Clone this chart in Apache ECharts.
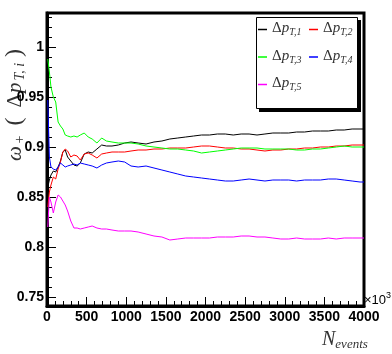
<!DOCTYPE html>
<html>
<head>
<meta charset="utf-8">
<script src="https://cdn.jsdelivr.net/npm/echarts@6/dist/echarts.min.js"></script>
<style>
  html, body { margin: 0; padding: 0; background: #fff; }
  #chart { width: 392px; height: 354px; }
</style>
</head>
<body>
<div id="chart"></div>
<script>
// N events (x 10^3)
const nEvents = [10, 30, 50, 80, 110, 140, 170, 200, 230, 260, 300, 340, 380, 420, 470, 520, 570, 630, 690, 750,
  820, 900, 980, 1060, 1150, 1250, 1350, 1450, 1550, 1650, 1750, 1850, 1950, 2050, 2150, 2250, 2350, 2450, 2550, 2650,
  2750, 2850, 2950, 3050, 3150, 3250, 3350, 3450, 3550, 3650, 3750, 3850, 3950, 4000];

const pt1 = [0.860, 0.867, 0.872, 0.876, 0.875, 0.880, 0.886, 0.895, 0.897, 0.890, 0.886, 0.882, 0.881, 0.884, 0.893, 0.895, 0.894, 0.898, 0.902, 0.901,
  0.901, 0.902, 0.904, 0.905, 0.904, 0.903, 0.905, 0.906, 0.908, 0.909, 0.910, 0.911, 0.912, 0.912, 0.913, 0.913, 0.912, 0.913, 0.913, 0.912,
  0.913, 0.914, 0.914, 0.914, 0.915, 0.915, 0.916, 0.916, 0.916, 0.917, 0.917, 0.918, 0.918, 0.918];
const pt2 = [0.840, 0.855, 0.862, 0.870, 0.868, 0.878, 0.885, 0.895, 0.898, 0.896, 0.890, 0.892, 0.891, 0.887, 0.893, 0.894, 0.892, 0.889, 0.893, 0.894,
  0.895, 0.895, 0.895, 0.896, 0.897, 0.897, 0.898, 0.898, 0.899, 0.899, 0.899, 0.900, 0.901, 0.901, 0.900, 0.899, 0.899, 0.898, 0.898, 0.897,
  0.896, 0.897, 0.897, 0.898, 0.898, 0.899, 0.899, 0.900, 0.900, 0.901, 0.901, 0.902, 0.902, 0.902];
const pt3 = [0.988, 0.975, 0.960, 0.950, 0.945, 0.925, 0.921, 0.918, 0.912, 0.911, 0.910, 0.911, 0.910, 0.912, 0.914, 0.910, 0.908, 0.904, 0.909, 0.906,
  0.905, 0.904, 0.904, 0.904, 0.903, 0.901, 0.900, 0.899, 0.898, 0.898, 0.897, 0.896, 0.894, 0.895, 0.896, 0.897, 0.898, 0.899, 0.899, 0.899,
  0.898, 0.898, 0.898, 0.898, 0.897, 0.897, 0.898, 0.898, 0.899, 0.900, 0.901, 0.900, 0.900, 0.900];
const pt4 = [0.947, 0.890, 0.880, 0.878, 0.877, 0.880, 0.884, 0.882, 0.880, 0.881, 0.882, 0.883, 0.882, 0.884, 0.883, 0.882, 0.881, 0.879, 0.882, 0.884,
  0.885, 0.886, 0.885, 0.881, 0.880, 0.881, 0.879, 0.877, 0.875, 0.873, 0.871, 0.870, 0.869, 0.868, 0.867, 0.866, 0.866, 0.867, 0.868, 0.867,
  0.866, 0.867, 0.867, 0.867, 0.866, 0.867, 0.867, 0.867, 0.868, 0.868, 0.867, 0.866, 0.865, 0.865];
const pt5 = [0.820, 0.850, 0.845, 0.834, 0.845, 0.852, 0.850, 0.846, 0.842, 0.836, 0.826, 0.819, 0.819, 0.818, 0.819, 0.820, 0.821, 0.819, 0.818, 0.818,
  0.817, 0.816, 0.816, 0.816, 0.815, 0.813, 0.811, 0.810, 0.807, 0.808, 0.809, 0.809, 0.809, 0.809, 0.810, 0.810, 0.810, 0.811, 0.811, 0.810,
  0.810, 0.809, 0.808, 0.808, 0.809, 0.808, 0.808, 0.808, 0.809, 0.808, 0.809, 0.809, 0.809, 0.809];

const seriesNames = ["pt1", "pt2", "pt3", "pt4", "pt5"];
const seriesLabels = ["1", "2", "3", "4", "5"];
const seriesColors = ["#000000", "#ff0000", "#00ff00", "#0000ff", "#ff00ff"];
const seriesData = [pt1, pt2, pt3, pt4, pt5];

const yMajor = [0.75, 0.8, 0.85, 0.9, 0.95, 1];
const yMinor = [0.75, 0.76, 0.77, 0.78, 0.79, 0.8, 0.81, 0.82, 0.83, 0.84, 0.85, 0.86, 0.87, 0.88, 0.89,
  0.9, 0.91, 0.92, 0.93, 0.94, 0.95, 0.96, 0.97, 0.98, 0.99, 1, 1.01, 1.02, 1.03];

const tickFont = {
  fontFamily: "Liberation Sans Narrow, Liberation Sans, sans-serif",
  fontWeight: "bold",
  fontSize: 14,
  color: "#000",
};

// legend columns like the ROOT TLegend (2 columns)
function legendCol(names, left) {
  return {
    left: left,
    top: 21,
    orient: "vertical",
    padding: 0,
    itemGap: 11,
    itemWidth: 9,
    itemHeight: 1.5,
    icon: "rect",
    z: 20,
    data: names,
    formatter: (name) => "Δ{p|p}{s|T," + seriesLabels[seriesNames.indexOf(name)] + "}",
    textStyle: {
      height: 20,
      color: "#333",
      fontFamily: "Liberation Serif, serif",
      fontSize: 15,
      rich: {
        p: { fontFamily: "Liberation Serif, serif", fontStyle: "italic", fontSize: 15, color: "#333" },
        s: { fontFamily: "Liberation Serif, serif", fontStyle: "italic", fontSize: 10, color: "#333", padding: [8, 0, 0, 0] },
      },
    },
  };
}

const chart = echarts.init(document.getElementById("chart"));

const opt = {
  animation: false,
  backgroundColor: "#fff",
  grid: {
    left: 47,
    right: 28,
    top: 13,
    bottom: 48,
    show: true,
    borderColor: "#000",
    borderWidth: 3,
  },
  legend: [
    legendCol(["pt1", "pt3", "pt5"], 258),
    legendCol(["pt2", "pt4"], 309),
  ],
  xAxis: {
    type: "value",
    min: 0,
    max: 4000,
    interval: 500,
    axisLine: { show: true, lineStyle: { color: "#000", width: 3 } },
    axisTick: { show: true, inside: true, length: 9, lineStyle: { color: "#000", width: 1 } },
    minorTick: { show: true, splitNumber: 5, length: 5, lineStyle: { color: "#000", width: 1 } },
    splitLine: { show: false },
    axisLabel: Object.assign({ margin: 4, showMaxLabel: true, showMinLabel: true, formatter: (v) => String(v) }, tickFont),
  },
  yAxis: [
    {
      type: "value",
      min: 0.741,
      max: 1.034,
      position: "left",
      axisLine: { show: true, lineStyle: { color: "#000", width: 3 } },
      axisTick: { show: true, inside: true, length: 9, customValues: yMajor, lineStyle: { color: "#000", width: 1 } },
      splitLine: { show: false },
      axisLabel: Object.assign({ margin: 3, customValues: yMajor }, tickFont),
    },
    {
      type: "value",
      min: 0.741,
      max: 1.034,
      position: "left",
      offset: 0,
      axisLine: { show: false },
      axisTick: { show: true, inside: true, length: 5, customValues: yMinor, lineStyle: { color: "#000", width: 1 } },
      splitLine: { show: false },
      axisLabel: { show: false },
    },
  ],
  series: seriesNames.map((name, i) => ({
    name: name,
    type: "line",
    data: nEvents.map((n, j) => [n, seriesData[i][j]]),
    showSymbol: false,
    symbol: "none",
    color: seriesColors[i],
    lineStyle: { color: seriesColors[i], width: 1 },
    z: 3,
  })),
  graphic: [
    // legend box shadow + frame
    { type: "rect", z: 10, shape: { x: 259, y: 20, width: 102, height: 92 }, style: { fill: "#000" } },
    { type: "rect", z: 11, shape: { x: 256.5, y: 17.5, width: 101, height: 91 }, style: { fill: "#fff", stroke: "#000", lineWidth: 1 } },
    {
      type: "text",
      x: 15,
      y: 103,
      rotation: Math.PI / 2,
      style: {
        text: "{w|ω}{s|+} {b|(}{d|Δ}{w|p}{s|T, i}{b|)}",
        textAlign: "center",
        textVerticalAlign: "middle",
        fill: "#333",
        rich: {
          w: { fontFamily: "Liberation Serif, serif", fontStyle: "italic", fontSize: 21, fill: "#333" },
          d: { fontFamily: "Liberation Serif, serif", fontSize: 21, fill: "#333", padding: [0, 1, 0, 6] },
          b: { fontFamily: "Liberation Serif, serif", fontSize: 24, fill: "#333", padding: [0, 4, 0, 4] },
          s: { fontFamily: "Liberation Serif, serif", fontStyle: "italic", fontSize: 14, fill: "#333", padding: [10, 2, 0, 2] },
        },
      },
    },
    {
      type: "text",
      x: 322,
      y: 340,
      style: {
        text: "{n|N}{s|events}",
        textAlign: "left",
        textVerticalAlign: "middle",
        fill: "#333",
        rich: {
          n: { fontFamily: "Liberation Serif, serif", fontStyle: "italic", fontSize: 20, fill: "#333" },
          s: { fontFamily: "Liberation Serif, serif", fontStyle: "italic", fontSize: 13, fill: "#333", padding: [9, 0, 0, 0] },
        },
      },
    },
    {
      type: "text",
      x: 364,
      y: 300,
      style: {
        text: "×10{e|3}",
        textAlign: "left",
        textVerticalAlign: "middle",
        fontFamily: "Liberation Sans Narrow, Liberation Sans, sans-serif",
        fontSize: 13,
        fill: "#000",
        rich: {
          e: { fontFamily: "Liberation Sans Narrow, Liberation Sans, sans-serif", fontSize: 9, fill: "#000", padding: [0, 0, 8, 0] },
        },
      },
    },
  ],
};

chart.setOption(opt);
</script>
</body>
</html>
